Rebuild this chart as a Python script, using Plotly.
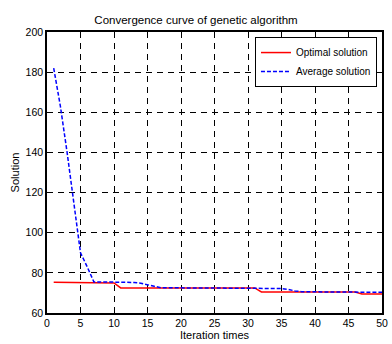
import plotly.graph_objects as go

iterations = list(range(1, 51))
optimal = [75.3]*9 + [75.0] + [72.5]*21 + [70.5]*15 + [69.5]*4
average = [182, 163, 140, 115, 90, 83, 75.5, 75.5, 75.5, 75.5,
           75.5, 75.4, 75.2, 74.8, 74.2, 73.3, 72.6, 72.5, 72.5, 72.5,
           72.5, 72.5, 72.5, 72.5, 72.5, 72.5, 72.5, 72.5, 72.5, 72.5,
           72.5, 72.5, 72.4, 72.3, 72.2, 71.8, 71.0, 70.6, 70.5, 70.5,
           70.5, 70.5, 70.5, 70.5, 70.5, 70.4, 70.4, 70.3, 70.3, 70.3]
x_ticks = [0, 5, 10, 15, 20, 25, 30, 35, 40, 45, 50]
y_ticks = [60, 80, 100, 120, 140, 160, 180, 200]

fig = go.Figure()
fig.add_trace(go.Scatter(x=iterations, y=optimal, mode="lines", name="Optimal solution",
                         line=dict(color="#ff0000", width=1.5)))
fig.add_trace(go.Scatter(x=iterations, y=average, mode="lines", name="Average solution",
                         line=dict(color="#0000ff", width=1.5, dash="4px,2px")))

axis_common = dict(showline=True, linecolor="black", linewidth=1.5, mirror="ticks",
                   ticks="inside", ticklen=4, tickcolor="black",
                   showgrid=True, gridcolor="#000000", gridwidth=1, griddash="6px,5px",
                   zeroline=False, ticklabeloverflow="allow",
                   tickfont=dict(family="Liberation Sans, Arial", size=10.5, color="black"))

fig.update_xaxes(range=[0, 50], tickvals=x_ticks,
                 title=dict(text="Iteration times", font=dict(family="Liberation Sans, Arial", size=11, color="black"), standoff=2),
                 **axis_common)
fig.update_yaxes(range=[60, 200], tickvals=y_ticks,
                 title=dict(text="Solution", font=dict(family="Liberation Sans, Arial", size=11, color="black"), standoff=4),
                 **axis_common)

fig.update_layout(
    width=392, height=344,
    margin=dict(l=47, r=4, t=32, b=31),
    paper_bgcolor="white", plot_bgcolor="white",
    title=dict(text="Convergence curve of genetic algorithm", x=0.5, xanchor="center",
               y=1 - 20/344, yanchor="middle",
               font=dict(family="Liberation Sans, Arial", size=11.5, color="black")),
    legend=dict(x=0.985, y=0.982, xanchor="right", yanchor="top",
                bgcolor="white", bordercolor="black", borderwidth=1,
                font=dict(family="Liberation Sans, Arial", size=10, color="black"),
                tracegroupgap=0, itemwidth=30),
    showlegend=True,
)

fig.write_html("out.html")
